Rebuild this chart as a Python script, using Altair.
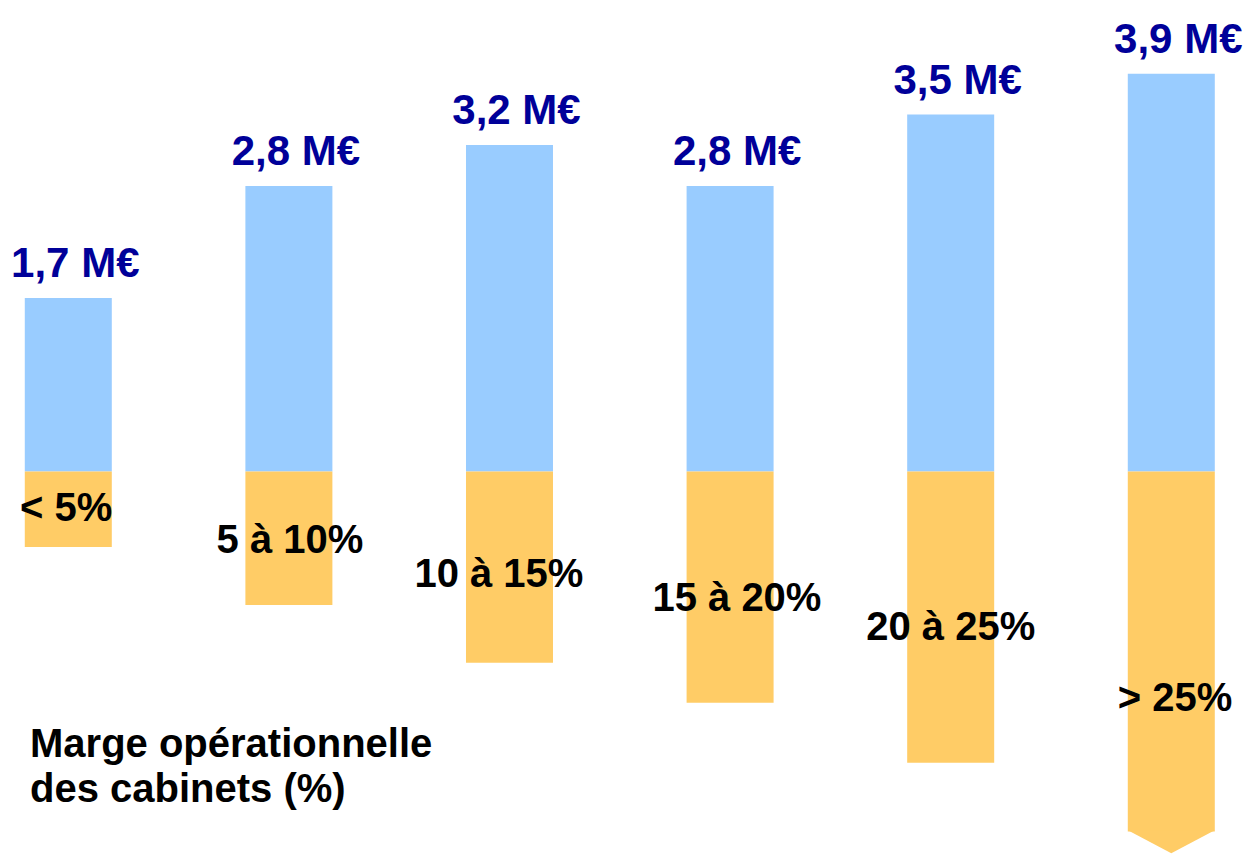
import altair as alt
import pandas as pd

# ---- data ----
revenue = [1.7, 2.8, 3.2, 2.8, 3.5, 3.9]                    # M€ per class
margin_classes = ["< 5%", "5 à 10%", "10 à 15%", "15 à 20%", "20 à 25%", "> 25%"]
margin_bar = [0.74, 1.31, 1.875, 2.267, 2.855, 3.53]         # length of the orange bars (same units, downward)
margin_label_x = [-0.01, 0.005, -0.048, 0.031, 0.0, 0.017]   # label anchor, relative to the column
margin_label_y = [0.49, 0.80, 1.13, 1.37, 1.65, 2.35]        # label anchor below the baseline
axis_title = ["Marge opérationnelle", "des cabinets (%)"]

df = pd.DataFrame({
    "idx": list(range(len(revenue))),
    "revenue": revenue,
    "rev_label": [f"{v:.1f}".replace(".", ",") + " M€" for v in revenue],
    "margin": margin_classes,
    "depth": [-d for d in margin_bar],
    "lab_x": [i + o for i, o in enumerate(margin_label_x)],
    "lab_y": [-v for v in margin_label_y],
})

W, H = 1242, 848
px_per_unit = 102.0
baseline_px = 463.5
ys = alt.Scale(domain=[-(H - baseline_px) / px_per_unit, baseline_px / px_per_unit], nice=False, zero=False)
xs = alt.Scale(domain=[-0.2733, 5.3568], nice=False, zero=False, padding=0)

FONT = "Liberation Sans"
BLUE = "#99CCFF"
ORANGE = "#FFCC66"
NAVY = "#000099"
BAR_W = 87

base = alt.Chart(df)

blue = base.mark_bar(size=BAR_W, color=BLUE).encode(
    x=alt.X("idx:Q", scale=xs, axis=None),
    y=alt.Y("revenue:Q", scale=ys, axis=None),
)

orange = base.mark_bar(size=BAR_W, color=ORANGE).encode(
    x=alt.X("idx:Q", scale=xs, axis=None),
    y=alt.Y("depth:Q", scale=ys, axis=None),
)

arrow = base.transform_filter(alt.datum.margin == "> 25%").mark_point(
    shape="M -1 -0.03 L 1 -0.03 L 0 0.5 Z",
    size=BAR_W * BAR_W,
    filled=True,
    color=ORANGE,
    opacity=1,
    strokeWidth=0,
).encode(
    x=alt.X("idx:Q", scale=xs, axis=None),
    y=alt.Y("depth:Q", scale=ys, axis=None),
)

rev_text = base.mark_text(
    font=FONT, fontSize=42, fontWeight="bold", color=NAVY,
    align="center", baseline="alphabetic", dy=-21, dx=7,
).encode(
    x=alt.X("idx:Q", scale=xs, axis=None),
    y=alt.Y("revenue:Q", scale=ys, axis=None),
    text="rev_label:N",
)

margin_text = base.mark_text(
    font=FONT, fontSize=40, fontWeight="bold", color="black",
    align="center", baseline="alphabetic",
).encode(
    x=alt.X("lab_x:Q", scale=xs, axis=None),
    y=alt.Y("lab_y:Q", scale=ys, axis=None),
    text="margin:N",
)

title_text = alt.Chart(pd.DataFrame({"t": [0]})).mark_text(
    text=axis_title,
    font=FONT, fontSize=40, fontWeight="bold", color="black",
    align="left", baseline="alphabetic", lineHeight=45,
).encode(x=alt.value(22), y=alt.value(749))

chart = alt.layer(blue, orange, arrow, rev_text, margin_text, title_text).properties(
    width=W, height=H, padding=0,
    autosize=alt.AutoSizeParams(type="none"),
    background="white",
).configure_view(stroke=None)

chart.save("out.html", embed_options={"renderer": "svg", "actions": False})
